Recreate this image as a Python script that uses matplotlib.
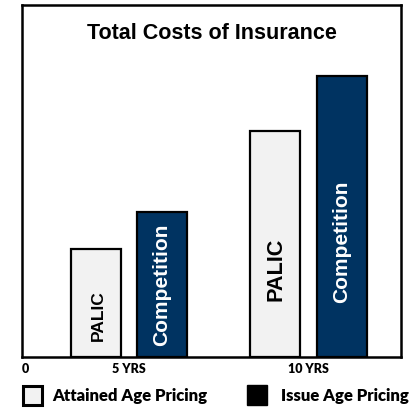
import matplotlib
matplotlib.use("Agg")
from matplotlib import pyplot as plt
from matplotlib.patches import Rectangle

# chart data (arbitrary units)
groups = ["5 YRS", "10 YRS"]
palic = [108, 226]
competition = [145, 281]
bar_labels = ["PALIC", "Competition"]
legend_labels = ["Attained Age Pricing", "Issue Age Pricing"]

LIGHT = "#F2F2F2"
NAVY = "#003361"

fig = plt.figure(figsize=(4.11, 4.12), dpi=100)
ax = fig.add_axes([22/411, 55/412, 379/411, 352/412])

x = [1, 2]
w = 0.28
off = 0.185
b1 = ax.bar([i - off for i in x], palic, w, color=LIGHT, edgecolor="black", linewidth=1.6)
b2 = ax.bar([i + off for i in x], competition, w, color=NAVY, edgecolor="black", linewidth=1.6)

ax.set_xlim(0.404, 2.515)
ax.set_ylim(0, 352)

# labels inside the bars
lab_font = dict(family="Liberation Sans", weight="bold", rotation=90,
                ha="center", va="center")
ax.text(1 - off + 0.012, palic[0] * 0.38, bar_labels[0], fontsize=12.5, color="black", **lab_font)
ax.text(1 + off - 0.003, competition[0] * 0.5, bar_labels[1], fontsize=15, color="white", **lab_font)
ax.text(2 - off + 0.002, palic[1] * 0.39, bar_labels[0], fontsize=15.6, color="black", **lab_font)
ax.text(2 + off - 0.002, competition[1] * 0.41, bar_labels[1], fontsize=15, color="white", **lab_font)

ax.text(0.5, 0.92, "Total Costs of Insurance", transform=ax.transAxes,
        ha="center", va="center", fontsize=15.5, weight="bold", family="Liberation Sans")

ax.set_yticks([])
ax.set_xticks([0.4206] + x)
ax.set_xticklabels(["0"] + groups, fontsize=9, weight=800, family="Lato")
ax.tick_params(axis="x", length=0, pad=4)
for s in ax.spines.values():
    s.set_linewidth(1.8)

# legend drawn below the axes
fig.add_artist(Rectangle((23/411, 7/412), 19/411, 19/412, transform=fig.transFigure,
                         facecolor=LIGHT, edgecolor="black", linewidth=2.2))
fig.text(52/411, 16/412, legend_labels[0], fontsize=12, weight=800, family="Lato",
         va="center", ha="left")
fig.add_artist(Rectangle((247/411, 7/412), 20/411, 20/412, transform=fig.transFigure,
                         facecolor="black", edgecolor="black", linewidth=1))
fig.text(281/411, 16/412, legend_labels[1], fontsize=12, weight=800, family="Lato",
         va="center", ha="left")

fig.savefig("out.png", dpi=100)
